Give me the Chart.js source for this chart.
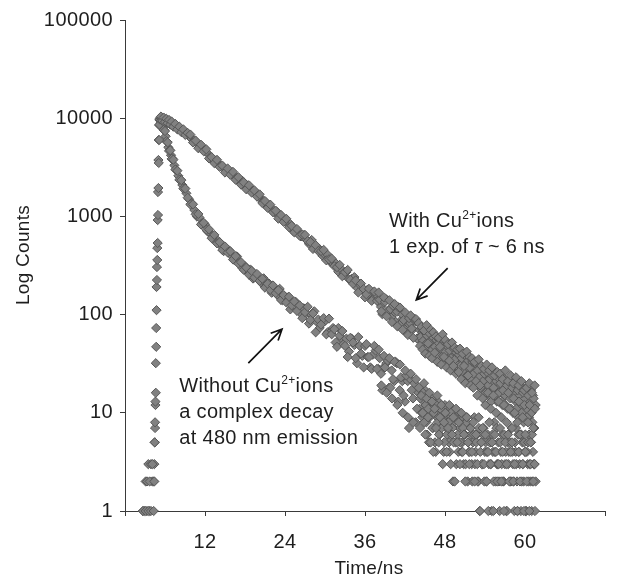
<!DOCTYPE html>
<html>
<head>
<meta charset="utf-8">
<script src="https://cdn.jsdelivr.net/npm/chart.js@4.4.1/dist/chart.umd.min.js"></script>
<style>
  html, body { margin: 0; padding: 0; background: #fff; }
</style>
</head>
<body>
<canvas id="decayChart" width="619" height="582"></canvas>
<script>
// time channels (ns), shared by both decays
const timeNs = [
  // rise
  2.7, 2.9, 3.1, 3.3, 3.5, 3.7, 3.9, 4.1, 4.3, 4.40, 4.46, 4.51, 4.57, 4.62, 4.68, 4.73, 4.79, 4.84, 4.90, 4.95, 5.01, 5.06, 5.12, 5.17, 5.23,
  // peak
  5.3, 5.5, 5.7, 5.9, 6.1, 6.3, 6.5, 6.7, 6.9, 7.1, 7.4, 7.7, 8.0, 8.3, 8.6, 8.9, 9.2,
  // decay
  9.6, 10.0, 10.4, 10.8, 11.2, 11.6, 12.0, 12.4, 12.8, 13.2,
  13.6, 14.0, 14.4, 14.8, 15.2, 15.6, 16.0, 16.4, 16.8, 17.2,
  17.6, 18.0, 18.4, 18.8, 19.2, 19.6, 20.0, 20.4, 20.8, 21.2,
  21.6, 22.0, 22.4, 22.8, 23.2, 23.6, 24.0, 24.4, 24.8, 25.2,
  25.6, 26.0, 26.4, 26.8, 27.2, 27.6, 28.0, 28.4, 28.8, 29.2,
  29.6, 30.0, 30.4, 30.8, 31.2, 31.6, 32.0, 32.4, 32.8, 33.2,
  33.6, 34.0, 34.4, 34.8, 35.2, 35.6, 36.0, 36.4, 36.8, 37.2,
  37.6, 38.0, 38.4, 38.8, 39.2, 39.6, 40.0, 40.4, 40.8, 41.2,
  41.6, 42.0, 42.4, 42.8, 43.2, 43.6, 44.0,
  // tail
  44.2, 44.4, 44.6, 44.8, 45.0, 45.2, 45.4, 45.6, 45.8, 46.0,
  46.2, 46.4, 46.6, 46.8, 47.0, 47.2, 47.4, 47.6, 47.8, 48.0,
  48.2, 48.4, 48.6, 48.8, 49.0, 49.2, 49.4, 49.6, 49.8, 50.0,
  50.2, 50.4, 50.6, 50.8, 51.0, 51.2, 51.4, 51.6, 51.8, 52.0,
  52.2, 52.4, 52.6, 52.8, 53.0, 53.2, 53.4, 53.6, 53.8, 54.0,
  54.2, 54.4, 54.6, 54.8, 55.0, 55.2, 55.4, 55.6, 55.8, 56.0,
  56.2, 56.4, 56.6, 56.8, 57.0, 57.2, 57.4, 57.6, 57.8, 58.0,
  58.2, 58.4, 58.6, 58.8, 59.0, 59.2, 59.4, 59.6, 59.8, 60.0,
  60.2, 60.4, 60.6, 60.8, 61.0, 61.2, 61.4, 61.6,
  // in-between channels: peak
  5.4, 5.6, 5.8, 6.0, 6.2, 6.4, 6.6, 6.8, 7.0, 7.25, 7.55, 7.85, 8.15, 8.45, 8.75, 9.05, 9.4,
  // in-between channels: decay
  9.8, 10.2, 10.6, 11.0, 11.4, 11.8, 12.2, 12.6, 13.0, 13.4,
  13.8, 14.2, 14.6, 15.0, 15.4, 15.8, 16.2, 16.6, 17.0, 17.4,
  17.8, 18.2, 18.6, 19.0, 19.4, 19.8, 20.2, 20.6, 21.0, 21.4,
  21.8, 22.2, 22.6, 23.0, 23.4, 23.8, 24.2, 24.6, 25.0, 25.4,
  25.8, 26.2, 26.6, 27.0, 27.4, 27.8, 28.2, 28.6, 29.0, 29.4,
  29.8, 30.2, 30.6, 31.0, 31.4, 31.8, 32.2, 32.6, 33.0, 33.4,
  33.8, 34.2, 34.6, 35.0, 35.4, 35.8, 36.2, 36.6, 37.0, 37.4,
  37.8, 38.2, 38.6, 39.0, 39.4, 39.8, 40.2, 40.6, 41.0, 41.4,
  41.8, 42.2, 42.6, 43.0, 43.4, 43.8,
  // in-between channels: tail
  44.3, 44.5, 44.7, 44.9, 45.1, 45.3, 45.5, 45.7, 45.9, 46.1,
  46.3, 46.5, 46.7, 46.9, 47.1, 47.3, 47.5, 47.7, 47.9, 48.1,
  48.3, 48.5, 48.7, 48.9, 49.1, 49.3, 49.5, 49.7, 49.9, 50.1,
  50.3, 50.5, 50.7, 50.9, 51.1, 51.3, 51.5, 51.7, 51.9, 52.1,
  52.3, 52.5, 52.7, 52.9, 53.1, 53.3, 53.5, 53.7, 53.9, 54.1,
  54.3, 54.5, 54.7, 54.9, 55.1, 55.3, 55.5, 55.7, 55.9, 56.1,
  56.3, 56.5, 56.7, 56.9, 57.1, 57.3, 57.5, 57.7, 57.9, 58.1,
  58.3, 58.5, 58.7, 58.9, 59.1, 59.3, 59.5, 59.7, 59.9, 60.1,
  60.3, 60.5, 60.7, 60.9, 61.1, 61.3, 61.5,
  // further channels: late decay
  38.05, 38.45, 38.85, 39.25, 39.65, 40.05, 40.45, 40.85, 41.25, 41.65, 42.05, 42.45, 42.85, 43.25, 43.65,
  // further channels: tail
  44.05, 44.25, 44.45, 44.65, 44.85, 45.05, 45.25, 45.45, 45.65, 45.85,
  46.05, 46.25, 46.45, 46.65, 46.85, 47.05, 47.25, 47.45, 47.65, 47.85,
  48.05, 48.25, 48.45, 48.65, 48.85, 49.05, 49.25, 49.45, 49.65, 49.85,
  50.05, 50.25, 50.45, 50.65, 50.85, 51.05, 51.25, 51.45, 51.65, 51.85,
  52.05, 52.25, 52.45, 52.65, 52.85, 53.05, 53.25, 53.45, 53.65, 53.85,
  54.05, 54.25, 54.45, 54.65, 54.85, 55.05, 55.25, 55.45, 55.65, 55.85,
  56.05, 56.25, 56.45, 56.65, 56.85, 57.05, 57.25, 57.45, 57.65, 57.85,
  58.05, 58.25, 58.45, 58.65, 58.85, 59.05, 59.25, 59.45, 59.65, 59.85,
  60.05, 60.25, 60.45, 60.65, 60.85, 61.05, 61.25, 61.45
];

// with Cu2+ ions: single exponential
const withCuCounts = [
  1, null, 1, 2, 1, 2, 1, 3, 1, 2, 5, 8, 13, 16, 47, 111, 225, 360, 536, 1033, 1945, 3500, 6000, 8600, 9700,
  10080, 9850, 9810, 9590, 9560, 9310, 9290, 9050, 8990, 8680, 8510, 8150, 8010, 7640, 7530, 7190, 6990,
  6580, 6135, 5937, 5508, 5263, 4826, 4614, 4379, 4028, 3748,
  3694, 3446, 3257, 3159, 2888, 2846, 2757, 2539, 2450, 2287,
  2305, 2101, 2036, 1843, 1811, 1678, 1652, 1479, 1438, 1289,
  1302, 1204, 1100, 1112, 997, 919, 921, 838, 834, 713,
  728, 700, 626, 642, 580, 525, 575, 501, 461, 463,
  399, 406, 406, 343, 333, 334, 273, 292, 264, 271,
  229, 231, 241, 188, 202, 179, 150, 180, 163, 145,
  161, 136, 120, 133, 143, 108, 94, 107, 107, 85,
  100, 71, 82, 82, 71, 85, 58,
  70, 57, 66, 52, 63, 49, 61, 58, 45, 56,
  62, 43, 52, 41, 54, 44, 36, 49, 40, 47,
  35, 44, 38, 31, 42, 33, 40, 29, 37, 31,
  38, 27, 34, 25, 33, 28, 35, 23, 30, 26,
  31, 21, 28, 24, 19, 29, 22, 17, 26, 20,
  15, 24, 18, 23, 14, 21, 17, 25, 13, 19,
  16, 22, 12, 18, 15, 20, 11, 17, 14, 19,
  10, 16, 13, 18, 9, 15, 12, 17, 8, 14,
  11, 16, 9, 13, 10, 15, 7, 12,
  10400, 9400, 10150, 9150, 9870, 8900, 9600, 8600, 9250, 8200, 8750, 7700, 8200, 7220, 7700, 6750, 7080,
  6816, 5659, 5918, 4940, 5364, 4608, 4817, 3897, 4009, 3487,
  3766, 3192, 3296, 2797, 3074, 2650, 2840, 2359, 2510, 2111,
  2225, 1886, 2076, 1748, 1844, 1591, 1674, 1367, 1435, 1222,
  1316, 1104, 1145, 948, 1034, 879, 945, 776, 803, 688,
  744, 635, 653, 648, 560, 548, 466, 509, 444, 444,
  456, 357, 366, 372, 311, 304, 321, 246, 271, 285,
  226, 206, 223, 168, 207, 182, 161, 183, 138, 172,
  138, 142, 101, 135, 110, 114, 123, 84, 119, 81,
  88, 65, 92, 72, 90, 57,
  59, 72, 54, 67, 50, 61, 47, 64, 55, 44,
  58, 47, 55, 39, 51, 45, 57, 38, 46, 42,
  48, 34, 43, 36, 29, 45, 35, 41, 28, 39,
  30, 36, 26, 39, 31, 24, 34, 29, 22, 33,
  25, 32, 20, 27, 23, 18, 30, 21, 25, 16,
  26, 19, 22, 13, 24, 18, 15, 21, 23, 16,
  20, 13, 17, 22, 12, 19, 16, 21, 11, 18,
  14, 20, 11, 17, 13, 19, 10, 16, 12, 18,
  9, 15, 12, 17, 8, 14, 11,
  168, 108, 150, 96, 140, 84, 128, 76, 118, 70, 105, 62, 98, 58, 90,
  82, 48, 75, 44, 69, 40, 78, 51, 38, 70,
  36, 66, 41, 60, 33, 58, 47, 31, 63, 37,
  55, 29, 50, 34, 27, 52, 30, 46, 25, 44,
  26, 45, 22, 40, 30, 20, 42, 24, 37, 19,
  36, 18, 33, 21, 15, 35, 19, 30, 14, 28,
  12, 31, 16, 27, 11, 29, 15, 24, 10, 26,
  13, 25, 9, 22, 12, 27, 8, 21, 11, 24,
  7, 20, 10, 23, 8, 19, 6, 21, 9, 17,
  6, 18, 8, 20, 5, 16, 7, 19
];

// without Cu2+ ions: complex decay at 480 nm emission
const withoutCuCounts = [
  1, 1, 2, 1, 3, 1, 3, 2, 2, 3, 5, 7, 12, 32, 73, 191, 305, 476, 918, 1770, 3750, 6000, 8500, 9600, 9900,
  9650, 9340, 8450, 7560, 6550, 5760, 5050, 4740, 4200, 3890, 3310, 2980, 2590, 2370, 2090, 1940, 1720,
  1497, 1353, 1160, 995, 970, 854, 830, 701, 673, 632,
  551, 563, 501, 443, 465, 452, 398, 360, 391, 339,
  299, 312, 277, 288, 233, 250, 233, 212, 234, 199,
  207, 167, 179, 160, 183, 140, 153, 149, 113, 131,
  135, 113, 102, 116, 103, 81, 99, 108, 84, 73,
  82, 86, 66, 66, 73, 52, 73, 58, 50, 57,
  42, 57, 49, 32, 48, 38, 48, 37, 29, 39,
  43, 28, 25, 29, 32, 18, 27, 21, 32, 17,
  21, 13, 21, 22, 14, 8, 16,
  11, 15, 9, 13, 17, 8, 12, 5, 10, 14,
  7, 11, 4, 9, 13, 6, 10, 8, 4, 12,
  7, 9, 5, 11, 6, 2, 8, 5, 10, 4,
  7, 9, 5, 3, 6, 8, 2, 4, 7, 3,
  5, 9, 4, 6, 2, 1, 5, 3, 7, 4,
  2, 6, 3, 5, 1, 4, 8, 2, 3, 5,
  1, 4, 6, 2, 3, 1, 5, 4, 2, 7,
  3, 1, 4, 2, 6, 3, 1, 5, 2, 4,
  1, 3, 6, 2, 1, 4, 3, 2,
  9050, 9350, 7600, 7400, 5850, 5670, 4650, 4700, 3850, 3780, 3000, 2920, 2360, 2340, 1920, 1920, 1550,
  1325, 1328, 1051, 1059, 828, 861, 732, 739, 600, 648,
  532, 546, 455, 494, 429, 441, 364, 394, 331, 342,
  286, 301, 255, 279, 238, 259, 220, 232, 188, 206,
  178, 198, 165, 177, 141, 158, 133, 152, 124, 136,
  109, 124, 92, 106, 120, 88, 103, 66, 89, 79,
  92, 63, 91, 63, 71, 47, 61, 68, 48, 37,
  58, 52, 36, 59, 40, 29, 50, 37, 28, 48,
  28, 36, 17, 29, 34, 18, 22, 33, 13, 23,
  15, 24, 7, 17, 20, 11,
  14, 10, 16, 8, 12, 6, 11, 9, 13, 7,
  10, 5, 12, 8, 6, 11, 7, 9, 5, 10,
  6, 8, 4, 10, 7, 5, 9, 3, 6, 8,
  5, 4, 7, 6, 3, 9, 5, 4, 6, 2,
  6, 3, 5, 2, 7, 4, 3, 6, 2, 5,
  4, 1, 5, 3, 6, 2, 4, 7, 3, 2,
  5, 3, 2, 6, 4, 1, 3, 5, 2, 4,
  2, 5, 3, 1, 4, 6, 2, 3, 5, 1,
  4, 2, 3, 5, 2, 3, 1,
  44, 19, 38, 16, 36, 14, 33, 12, 31, 10, 27, 9, 25, 8, 22,
  18, 7, 15, 10, 20, 6, 14, 9, 16, 5,
  13, 4, 11, 7, 15, 5, 9, 12, 3, 8,
  10, 4, 7, 12, 3, 6, 9, 2, 11, 5,
  8, 3, 10, 4, 6, 2, 9, 5, 3, 7,
  4, 8, 2, 6, 3, 9, 1, 5, 7, 3,
  6, 2, 4, 8, 3, 5, 1, 6, 4, 2,
  3, 7, 2, 4, 1, 5, 3, 6, 2, 4,
  5, 2, 3, 7, 1, 4, 2, 6, 3, 1,
  4, 2, 5, 1, 3, 6, 2, 3
];

const xTicks = [0, 12, 24, 36, 48, 60, 72];
const yTicks = [1, 10, 100, 1000, 10000, 100000];

const FONT = "'Liberation Sans', Arial, Helvetica, sans-serif";
const INK = "#1e1e1e";
const AXIS = "#3a3a3a";

function toPoints(counts) {
  return timeNs
    .map((t, i) => ({ x: t, y: counts[i] }))
    .filter(p => p.y !== null && p.y !== undefined);
}

function markerStyle() {
  return {
    showLine: false,
    pointStyle: "rectRot",
    pointRadius: 4.6,
    pointBorderWidth: 1,
    pointBackgroundColor: "#818181",
    pointBorderColor: "#575757",
    clip: false,
  };
}

// text pieces: plain, superscript, italic
function drawRichLine(ctx, parts, x, y) {
  let cx = x;
  parts.forEach(part => {
    const size = part.sup ? 12 : 20;
    ctx.font = `${part.italic ? "italic " : ""}${size}px ${FONT}`;
    ctx.fillText(part.text, cx, part.sup ? y - 8 : y);
    cx += ctx.measureText(part.text).width;
  });
}

function drawArrow(ctx, x1, y1, x2, y2) {
  const angle = Math.atan2(y2 - y1, x2 - x1);
  const head = 12;
  ctx.beginPath();
  ctx.moveTo(x1, y1);
  ctx.lineTo(x2, y2);
  ctx.moveTo(x2 - head * Math.cos(angle - 0.45), y2 - head * Math.sin(angle - 0.45));
  ctx.lineTo(x2, y2);
  ctx.lineTo(x2 - head * Math.cos(angle + 0.45), y2 - head * Math.sin(angle + 0.45));
  ctx.stroke();
}

// slightly wider tick lettering, as in the original figure
const tickSpacing = {
  id: "tickSpacing",
  beforeLayout(chart) { chart.ctx.letterSpacing = "0.4px"; },
  beforeDraw(chart) { chart.ctx.letterSpacing = "0.4px"; },
};

const annotationPlugin = {
  id: "decayNotes",
  afterDraw(chart) {
    const { ctx, chartArea, scales: { x, y } } = chart;
    const px = t => x.getPixelForValue(t);
    const py = c => y.getPixelForValue(c);
    ctx.save();
    ctx.letterSpacing = "0.3px";
    ctx.fillStyle = INK;
    ctx.strokeStyle = "#111";
    ctx.lineWidth = 1.7;
    ctx.textBaseline = "alphabetic";
    ctx.textAlign = "left";

    const x1 = px(39.6), y1 = py(780);
    drawRichLine(ctx, [{ text: "With Cu" }, { text: "2+", sup: true }, { text: "ions" }], x1, y1);
    drawRichLine(ctx, [{ text: "1 exp. of " }, { text: "τ", italic: true }, { text: " ~ 6 ns" }], x1, y1 + 26);
    drawArrow(ctx, px(48.4), py(298), px(43.7), py(141));

    const x2 = px(8.15), y2 = py(16.3);
    drawRichLine(ctx, [{ text: "Without Cu" }, { text: "2+", sup: true }, { text: "ions" }], x2, y2);
    drawRichLine(ctx, [{ text: "a complex decay" }], x2, y2 + 26);
    drawRichLine(ctx, [{ text: "at 480 nm emission" }], x2, y2 + 52);
    drawArrow(ctx, px(18.5), py(32), px(23.55), py(71));

    // axis titles
    ctx.letterSpacing = "0.3px";
    ctx.font = `19px ${FONT}`;
    ctx.textAlign = "center";
    ctx.textBaseline = "middle";
    ctx.fillText("Time/ns", (chartArea.left + chartArea.right) / 2 + 4, 569);
    ctx.translate(24, 255);
    ctx.rotate(-Math.PI / 2);
    ctx.fillText("Log Counts", 0, 0);
    ctx.restore();
  },
};

new Chart(document.getElementById("decayChart"), {
  type: "scatter",
  data: {
    datasets: [
      { label: "With Cu2+ ions", data: toPoints(withCuCounts), ...markerStyle() },
      { label: "Without Cu2+ ions", data: toPoints(withoutCuCounts), ...markerStyle() },
    ],
  },
  options: {
    responsive: false,
    animation: false,
    events: [],
    layout: { padding: { top: 20, right: 9, left: 0, bottom: 0 } },
    plugins: { legend: { display: false }, tooltip: { enabled: false } },
    scales: {
      x: {
        type: "linear",
        min: 0,
        max: 72,
        afterBuildTicks: axis => { axis.ticks = xTicks.map(v => ({ value: v })); },
        afterFit: axis => { axis.height = 71; },
        grid: { drawOnChartArea: false, drawTicks: true, tickLength: 5, tickColor: AXIS },
        border: { display: true, color: AXIS, width: 1 },
        ticks: {
          autoSkip: false,
          maxRotation: 0,
          padding: 14,
          color: INK,
          font: { family: FONT, size: 20 },
          callback: v => (v === 0 || v === 72 ? "" : String(v)),
        },
      },
      y: {
        type: "logarithmic",
        min: 1,
        max: 100000,
        afterBuildTicks: axis => { axis.ticks = yTicks.map(v => ({ value: v })); },
        afterFit: axis => { axis.width = 125; },
        grid: { drawOnChartArea: false, drawTicks: true, tickLength: 5, tickColor: AXIS },
        border: { display: true, color: AXIS, width: 1 },
        ticks: {
          padding: 7,
          color: INK,
          font: { family: FONT, size: 20 },
          callback: v => String(v),
        },
      },
    },
  },
  plugins: [tickSpacing, annotationPlugin],
});
</script>
</body>
</html>
